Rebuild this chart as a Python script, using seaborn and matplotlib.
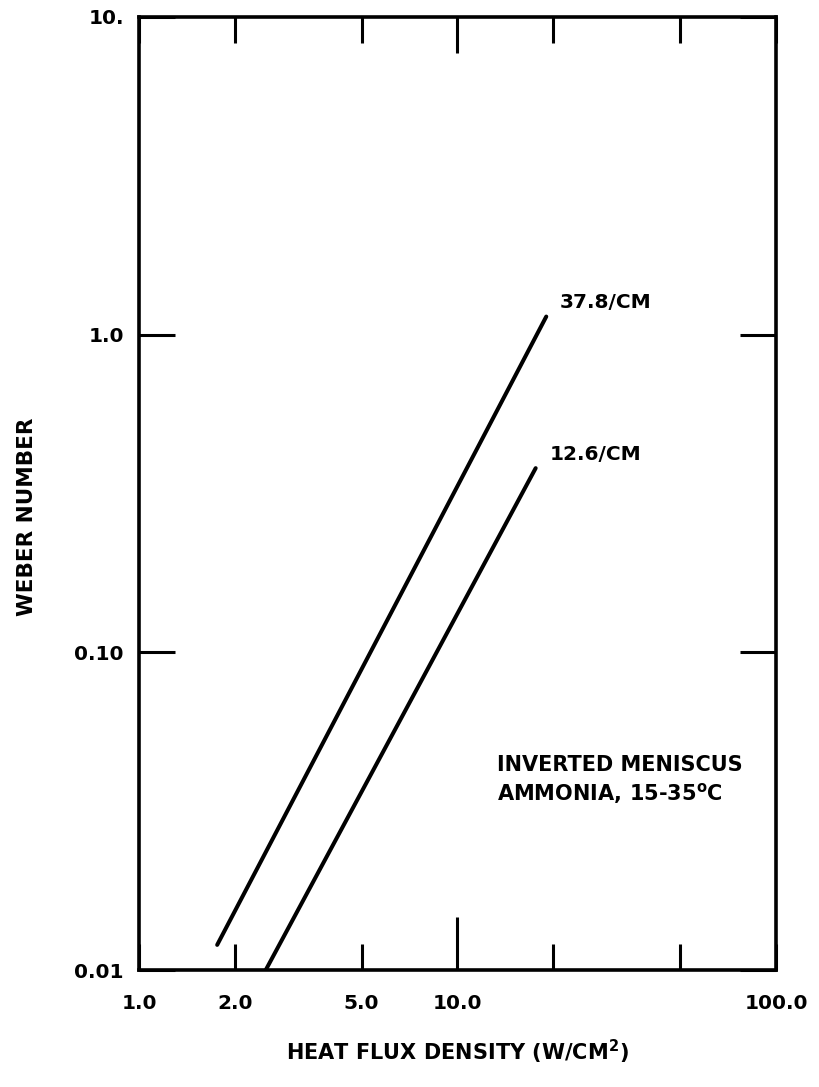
import matplotlib
matplotlib.use("Agg")
import matplotlib.pyplot as plt
from matplotlib.ticker import FixedLocator, NullFormatter, NullLocator
import pandas as pd
import seaborn as sns

# Weber number vs. heat flux density for two groove densities
flux_37 = [1.76, 19.0]
weber_37 = [0.012, 1.14]
flux_12 = [2.5, 17.6]
weber_12 = [0.010, 0.38]
series_labels = ["37.8/CM", "12.6/CM"]

x_ticks = [1, 2, 5, 10, 100]
x_tick_labels = ["1.0", "2.0", "5.0", "10.0", "100.0"]
x_minor_ticks = [20, 50]
y_ticks = [0.01, 0.1, 1, 10]
y_tick_labels = ["0.01", "0.10", "1.0", "10."]

df = pd.concat([
    pd.DataFrame({"flux": flux_37, "weber": weber_37, "series": series_labels[0]}),
    pd.DataFrame({"flux": flux_12, "weber": weber_12, "series": series_labels[1]}),
])

sns.set_theme(style="white")
plt.rcParams["font.family"] = ["DejaVu Sans"]
plt.rcParams["font.weight"] = "bold"
plt.rcParams["text.color"] = "black"
plt.rcParams["mathtext.fontset"] = "dejavusans"

FS = 14.5

fig = plt.figure(figsize=(8.2, 10.87), dpi=100)
ax = fig.add_axes([0.1695, 0.1076, 0.7768, 0.8768])

sns.lineplot(data=df, x="flux", y="weber", hue="series",
             palette=["black", "black"], linewidth=2.9, legend=False,
             estimator=None, sort=False, ax=ax)

ax.set_xscale("log")
ax.set_yscale("log")
ax.set_xlim(1, 100)
ax.set_ylim(0.01, 10)

ax.xaxis.set_major_locator(FixedLocator(x_ticks))
ax.xaxis.set_minor_locator(FixedLocator(x_minor_ticks))
ax.xaxis.set_minor_formatter(NullFormatter())
ax.set_xticklabels(x_tick_labels)
ax.yaxis.set_major_locator(FixedLocator(y_ticks))
ax.yaxis.set_minor_locator(NullLocator())
ax.set_yticklabels(y_tick_labels)

ax.tick_params(axis="x", which="both", direction="in", top=True, bottom=True,
               length=19, width=2.2, color="black", pad=17,
               labelsize=FS, labelcolor="black")
ax.tick_params(axis="y", which="both", direction="in", left=True, right=True,
               length=26, width=2.2, color="black", pad=11,
               labelsize=FS, labelcolor="black")
for tick, val in zip(ax.xaxis.get_major_ticks(), x_ticks):
    if val == 10:
        tick.tick1line.set_markersize(38)
        tick.tick2line.set_markersize(26)
for lbl in ax.get_xticklabels() + ax.get_yticklabels():
    lbl.set_fontweight("bold")

for sp in ax.spines.values():
    sp.set_linewidth(2.6)
    sp.set_color("black")

ax.set_xlabel(r"HEAT FLUX DENSITY (W/CM$^{\mathbf{2}}$)", fontsize=15,
              fontweight="bold", color="black")
ax.set_ylabel("WEBER NUMBER", fontsize=15.5, fontweight="bold", color="black")
ax.xaxis.set_label_coords(0.5, -0.071)
ax.yaxis.set_label_coords(-0.16, 0.476)

# Series labels at the upper end of each line
for fx, wy, name in [(flux_37, weber_37, series_labels[0]),
                     (flux_12, weber_12, series_labels[1])]:
    ax.annotate(name, xy=(fx[-1], wy[-1]), xytext=(10, 10),
                textcoords="offset points", fontsize=FS, fontweight="bold",
                ha="left", va="center", color="black")

ax.text(0.562, 0.215, "INVERTED MENISCUS", transform=ax.transAxes,
        fontsize=15, fontweight="bold", ha="left", va="center", color="black")
ax.text(0.562, 0.185, r"AMMONIA, 15-35$^{\mathbf{o}}$C", transform=ax.transAxes,
        fontsize=15, fontweight="bold", ha="left", va="center", color="black")

fig.savefig("out.png", dpi=100, facecolor="white")
